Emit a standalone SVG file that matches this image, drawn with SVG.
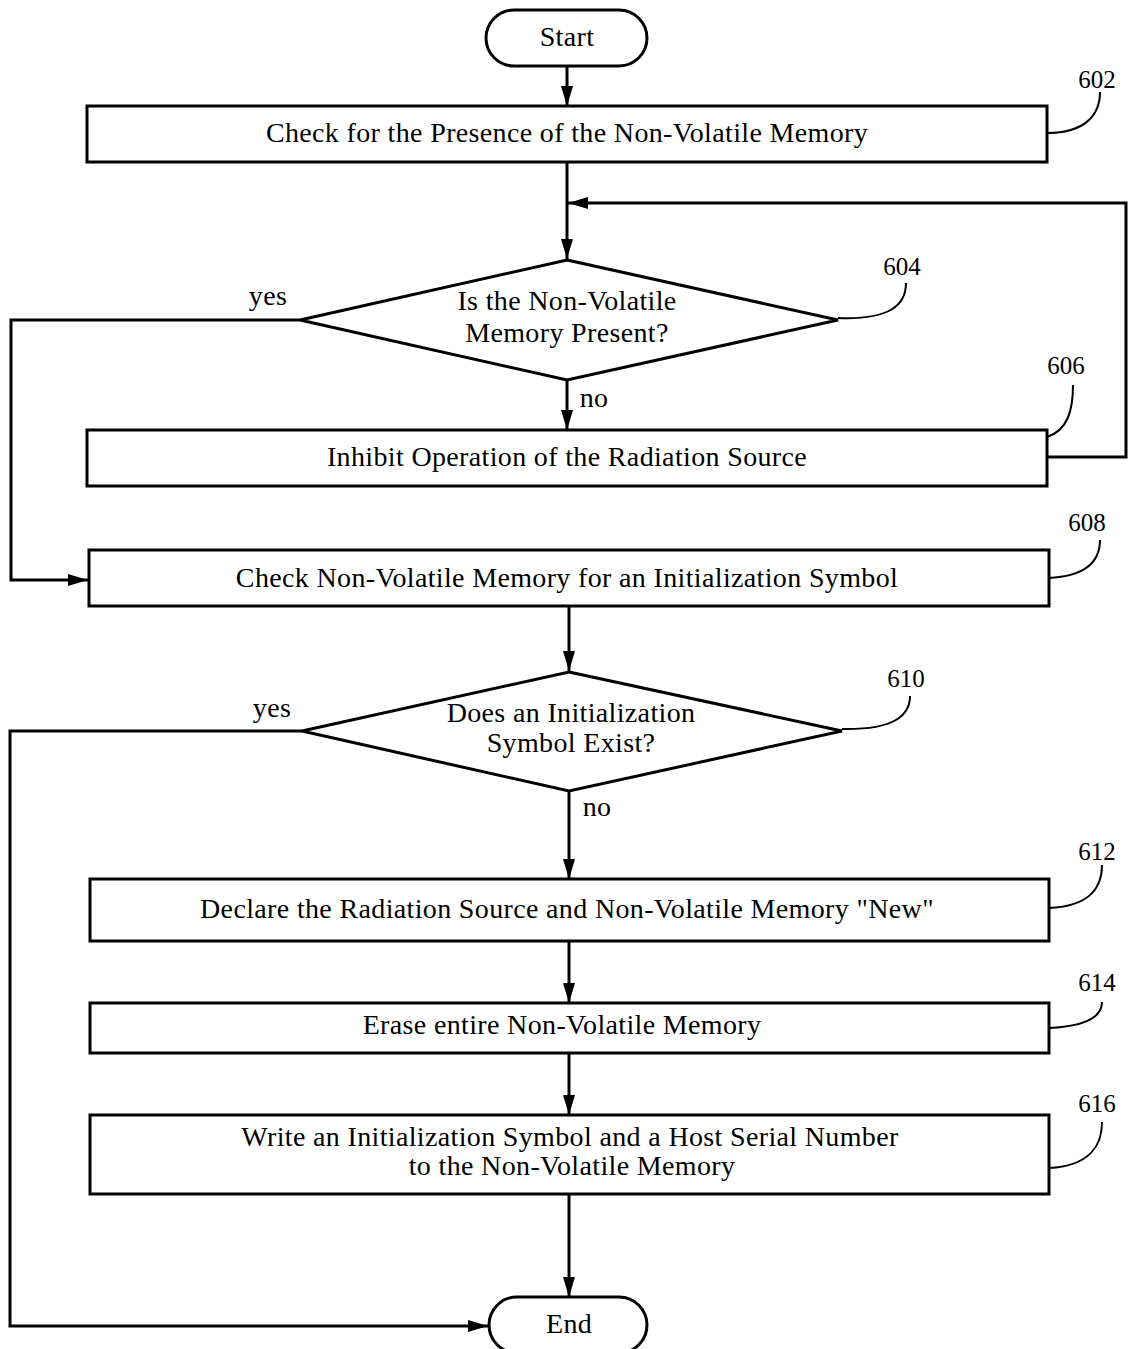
<svg xmlns="http://www.w3.org/2000/svg" width="1129" height="1349" viewBox="0 0 1129 1349">
<style>
.box{fill:#fff;stroke:#000;stroke-width:3}
.ln{fill:none;stroke:#000;stroke-width:3}
.ld{fill:none;stroke:#000;stroke-width:2}
text{font-family:"Liberation Serif","Times New Roman",serif;font-size:28px;letter-spacing:0.35px;fill:#000;text-anchor:middle}
.ref{font-size:25px;letter-spacing:0}
</style>
<defs>
<marker id="ah" viewBox="0 0 20 12" refX="20" refY="6" markerWidth="20" markerHeight="12" markerUnits="userSpaceOnUse" orient="auto">
<path d="M0,0 L20,6 L0,12 Z" fill="#000"/>
</marker>
</defs>
<rect width="1129" height="1349" fill="#fff"/>
<g id="connectors">
<line class="ln" x1="567" y1="66" x2="567" y2="106" marker-end="url(#ah)"/>
<line class="ln" x1="567" y1="162" x2="567" y2="259" marker-end="url(#ah)"/>
<polyline class="ln" points="1047,457 1126,457 1126,203 568,203" marker-end="url(#ah)"/>
<polyline class="ln" points="300,320 11,320 11,580 88,580" marker-end="url(#ah)"/>
<line class="ln" x1="567" y1="380" x2="567" y2="430" marker-end="url(#ah)"/>
<line class="ln" x1="569" y1="606" x2="569" y2="671" marker-end="url(#ah)"/>
<polyline class="ln" points="302,731 10,731 10,1326 488,1326" marker-end="url(#ah)"/>
<line class="ln" x1="569" y1="791" x2="569" y2="879" marker-end="url(#ah)"/>
<line class="ln" x1="569" y1="941" x2="569" y2="1003" marker-end="url(#ah)"/>
<line class="ln" x1="569" y1="1053" x2="569" y2="1115" marker-end="url(#ah)"/>
<line class="ln" x1="569" y1="1194" x2="569" y2="1297" marker-end="url(#ah)"/>
<text x="268" y="305">yes</text>
<text x="594" y="407">no</text>
<text x="272" y="717">yes</text>
<text x="597" y="816">no</text>
</g>
<g id="start">
<rect class="box" x="486" y="10" width="161" height="56" rx="28"/>
<text x="567" y="46">Start</text>
</g>
<g id="n602">
<rect class="box" x="87" y="106" width="960" height="56"/>
<text x="567" y="142">Check for the Presence of the Non-Volatile Memory</text>
<path class="ld" d="M1047,133 C1085,133 1100,115 1100,92"/>
<text class="ref" x="1097" y="88">602</text>
</g>
<g id="n604">
<polygon class="box" points="567,260 838,320 567,380 300,320"/>
<text x="567" y="310">Is the Non-Volatile</text>
<text x="567" y="342">Memory Present?</text>
<path class="ld" d="M838,318 C890,320 906,305 906,283"/>
<text class="ref" x="902" y="275">604</text>
</g>
<g id="n606">
<rect class="box" x="87" y="430" width="960" height="56"/>
<text x="567" y="466">Inhibit Operation of the Radiation Source</text>
<path class="ld" d="M1047,437 C1068,430 1073,410 1073,385"/>
<text class="ref" x="1066" y="374">606</text>
</g>
<g id="n608">
<rect class="box" x="89" y="550" width="960" height="56"/>
<text x="567" y="587">Check Non-Volatile Memory for an Initialization Symbol</text>
<path class="ld" d="M1049,578 C1088,576 1100,560 1100,540"/>
<text class="ref" x="1087" y="531">608</text>
</g>
<g id="n610">
<polygon class="box" points="569,672 842,731 569,791 302,731"/>
<text x="571" y="722">Does an Initialization</text>
<text x="571" y="752">Symbol Exist?</text>
<path class="ld" d="M842,729 C895,730 910,715 910,696"/>
<text class="ref" x="906" y="687">610</text>
</g>
<g id="n612">
<rect class="box" x="90" y="879" width="959" height="62"/>
<text x="567" y="918">Declare the Radiation Source and Non-Volatile Memory "New"</text>
<path class="ld" d="M1049,908 C1090,906 1102,888 1102,865"/>
<text class="ref" x="1097" y="860">612</text>
</g>
<g id="n614">
<rect class="box" x="90" y="1003" width="959" height="50"/>
<text x="562" y="1034">Erase entire Non-Volatile Memory</text>
<path class="ld" d="M1049,1028 C1090,1026 1102,1015 1102,1002"/>
<text class="ref" x="1097" y="991">614</text>
</g>
<g id="n616">
<rect class="box" x="90" y="1115" width="959" height="79"/>
<text x="570" y="1146">Write an Initialization Symbol and a Host Serial Number</text>
<text x="572" y="1175">to the Non-Volatile Memory</text>
<path class="ld" d="M1049,1168 C1090,1166 1102,1145 1102,1122"/>
<text class="ref" x="1097" y="1112">616</text>
</g>
<g id="end">
<rect class="box" x="489" y="1297" width="158" height="56" rx="28"/>
<text x="569" y="1333">End</text>
</g>
</svg>
